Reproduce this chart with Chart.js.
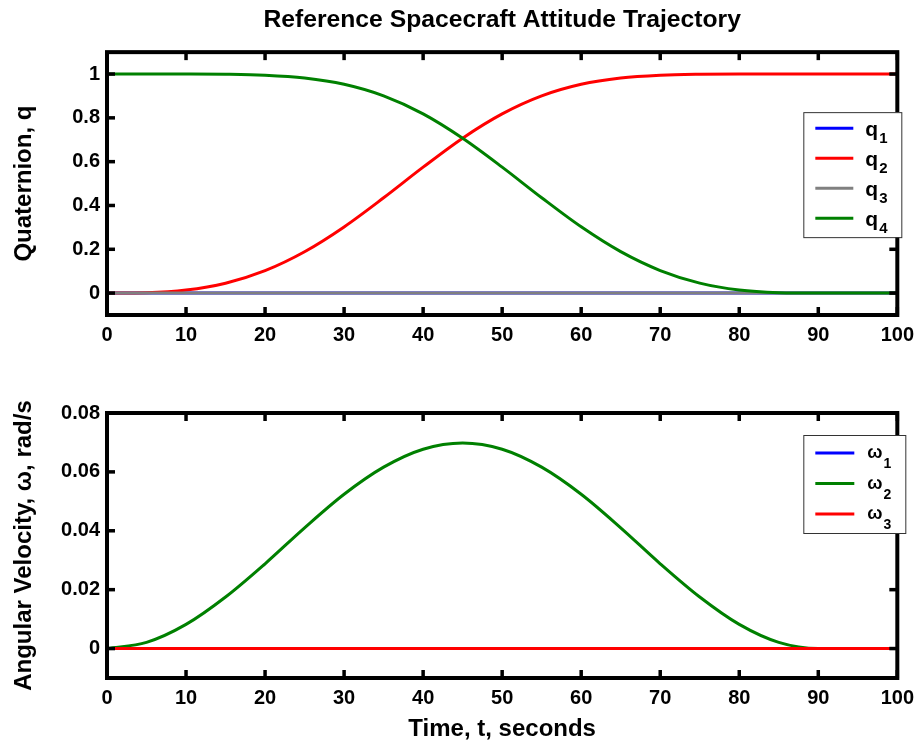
<!DOCTYPE html>
<html>
<head>
<meta charset="utf-8">
<title>Reference Spacecraft Attitude Trajectory</title>
<script src="https://cdn.jsdelivr.net/npm/chart.js@4.4.1/dist/chart.umd.min.js"></script>
<style>
  body { margin: 0; background: #fff; }
  #wrap { position: relative; width: 922px; height: 744px; }
  #wrap canvas { position: absolute; left: 0; }
</style>
</head>
<body>
<div id="wrap">
  <canvas id="quatChart" width="922" height="372" style="top:0"></canvas>
  <canvas id="rateChart" width="922" height="372" style="top:372px"></canvas>
</div>
<script>
// time samples, seconds
let time = [0, 5, 10, 15, 20, 25, 30, 35, 40, 45, 50, 55, 60, 65, 70, 75, 80, 85, 90, 95, 100];

// quaternion components
let q1 = [0, 0, 0, 0, 0, 0, 0, 0, 0, 0, 0, 0, 0, 0, 0, 0, 0, 0, 0, 0, 0];
let q2 = [0, 0.0018, 0.0138, 0.0453, 0.1027, 0.1890, 0.3022, 0.4350, 0.5749, 0.7073, 0.8180, 0.9003, 0.9532, 0.9820, 0.9947, 0.9990, 0.9999, 1.0, 1.0, 1.0, 1.0];
let q3 = [0, 0, 0, 0, 0, 0, 0, 0, 0, 0, 0, 0, 0, 0, 0, 0, 0, 0, 0, 0, 0];
let q4 = [1.0, 1.0, 0.9999, 0.9990, 0.9947, 0.9820, 0.9532, 0.9004, 0.8182, 0.7069, 0.5752, 0.4353, 0.3024, 0.1891, 0.1030, 0.0456, 0.0141, 0.0021, 0, 0, 0];

// body rates, rad/s
let w1 = [0, 0, 0, 0, 0, 0, 0, 0, 0, 0, 0, 0, 0, 0, 0, 0, 0, 0, 0, 0, 0];
let w2 = [0, 0.0021, 0.0082, 0.0175, 0.0288, 0.0410, 0.0524, 0.0616, 0.0677, 0.0698, 0.0677, 0.0616, 0.0524, 0.0410, 0.0288, 0.0175, 0.0082, 0.0021, 0, 0, 0];
let w3 = [0, 0, 0, 0, 0, 0, 0, 0, 0, 0, 0, 0, 0, 0, 0, 0, 0, 0, 0, 0, 0];

// tick labels
let timeTicks = [0, 10, 20, 30, 40, 50, 60, 70, 80, 90, 100];
let quatTicks = [0, 0.2, 0.4, 0.6, 0.8, 1];
let rateTicks = [0, 0.02, 0.04, 0.06, 0.08];

let quatNames = ['q1', 'q2', 'q3', 'q4'];
let rateNames = ['ω1', 'ω2', 'ω3'];
let quatColors = ['#0000ff', '#ff0000', '#808080', '#008000'];
let rateColors = ['#0000ff', '#008000', '#ff0000'];

Chart.defaults.font.family = "'Liberation Sans', Arial, sans-serif";
Chart.defaults.font.weight = 'bold';
Chart.defaults.color = '#000';

function toPoints(values) {
    return values.map((v, i) => ({x: time[i], y: v}));
}

function makeSets(series, names, colors) {
    // last series sits on top, like the original plot order
    return series.map((s, i) => ({
        label: names[i],
        data: toPoints(s),
        borderColor: colors[i],
        backgroundColor: colors[i],
        borderWidth: 3,
        pointRadius: 0,
        cubicInterpolationMode: 'monotone',
        order: series.length - i
    }));
}

// black box round the plot with inward ticks on all four sides
const frame = {
    id: 'frame',
    afterDatasetsDraw(chart) {
        const {ctx, chartArea: a, scales: {x, y}} = chart;
        const len = 8, w = 3.5;
        ctx.save();
        ctx.fillStyle = '#000';
        x.ticks.forEach(t => {
            const px = x.getPixelForValue(t.value);
            ctx.fillRect(px - w / 2, a.bottom - len, w, len);
            ctx.fillRect(px - w / 2, a.top, w, len);
        });
        y.ticks.forEach(t => {
            const py = y.getPixelForValue(t.value);
            ctx.fillRect(a.left, py - w / 2, len, w);
            ctx.fillRect(a.right - len, py - w / 2, len, w);
        });
        ctx.strokeStyle = '#000';
        ctx.lineWidth = 4;
        ctx.strokeRect(a.left, a.top, a.right - a.left, a.bottom - a.top);
        ctx.restore();
    }
};

// legend box inside the plot, labels drawn with subscript index
const boxLegend = {
    id: 'boxLegend',
    afterDraw(chart, args, o) {
        const {ctx, chartArea: a} = chart;
        const left = a.right + o.right - o.w;
        const top = a.top + o.top;
        ctx.save();
        ctx.fillStyle = '#fff';
        ctx.fillRect(left, top, o.w, o.h);
        ctx.strokeStyle = '#333';
        ctx.lineWidth = 1;
        ctx.strokeRect(left + 0.5, top + 0.5, o.w, o.h);
        chart.data.datasets.forEach((ds, i) => {
            const ly = top + o.first + i * o.gap;
            ctx.strokeStyle = ds.borderColor;
            ctx.lineWidth = 3;
            ctx.beginPath();
            ctx.moveTo(left + 12, ly);
            ctx.lineTo(left + o.lineEnd, ly);
            ctx.stroke();
            const base = ds.label.slice(0, -1);
            const sub = ds.label.slice(-1);
            ctx.fillStyle = '#000';
            ctx.textBaseline = 'alphabetic';
            ctx.font = 'bold ' + o.baseSize + "px 'Liberation Sans', Arial, sans-serif";
            ctx.fillText(base, left + o.textX, ly + o.baseDy);
            const bw = ctx.measureText(base).width;
            ctx.font = 'bold ' + o.subSize + "px 'Liberation Sans', Arial, sans-serif";
            ctx.fillText(sub, left + o.textX + bw + 1, ly + o.subDy);
        });
        ctx.restore();
    }
};

function axes(yTicks, yMin, yMax, yTitle, xTitle, xHeight) {
    return {
        x: {
            type: 'linear',
            min: 0,
            max: 100,
            afterBuildTicks: s => { s.ticks = timeTicks.map(v => ({value: v})); },
            afterFit: s => { s.height = xHeight; },
            grid: {display: false, drawTicks: false},
            border: {display: false},
            ticks: {autoSkip: false, maxRotation: 0, padding: 8, font: {size: 20}, callback: v => String(v)},
            title: {display: !!xTitle, text: xTitle, font: {size: 24}, padding: {top: 0, bottom: 0}}
        },
        y: {
            type: 'linear',
            min: yMin,
            max: yMax,
            afterBuildTicks: s => { s.ticks = yTicks.map(v => ({value: v})); },
            afterFit: s => { s.width = 107; },
            grid: {display: false, drawTicks: false},
            border: {display: false},
            ticks: {padding: 7, font: {size: 20}, callback: v => String(v)},
            title: {display: true, text: yTitle, font: {size: 24}, padding: {top: 10, bottom: 0}}
        }
    };
}

new Chart(document.getElementById('quatChart'), {
    type: 'line',
    data: {datasets: makeSets([q1, q2, q3, q4], quatNames, quatColors)},
    options: {
        responsive: false,
        animation: false,
        devicePixelRatio: 1,
        layout: {padding: {left: 0, right: 22, top: 0, bottom: 0}},
        scales: axes(quatTicks, -0.1, 1.1, 'Quaternion, q', '', 57),
        plugins: {
            legend: {display: false},
            tooltip: {enabled: false},
            title: {
                display: true,
                fullSize: false,
                text: 'Reference Spacecraft Attitude Trajectory',
                font: {size: 24.7},
                padding: {top: 5, bottom: 17.5}
            },
            boxLegend: {right: 4, top: 60, w: 98, h: 125, first: 16, gap: 30, lineEnd: 50, textX: 62,
                        baseSize: 21, baseDy: 8, subSize: 15, subDy: 14.5}
        }
    },
    plugins: [frame, boxLegend]
});

new Chart(document.getElementById('rateChart'), {
    type: 'line',
    data: {datasets: makeSets([w1, w2, w3], rateNames, rateColors)},
    options: {
        responsive: false,
        animation: false,
        devicePixelRatio: 1,
        layout: {padding: {left: 0, right: 22, top: 41, bottom: 0}},
        scales: axes(rateTicks, -0.01, 0.08, 'Angular Velocity, ω, rad/s', 'Time, t, seconds', 66),
        plugins: {
            legend: {display: false},
            tooltip: {enabled: false},
            title: {display: false},
            boxLegend: {right: 8, top: 22, w: 102, h: 98, first: 18, gap: 30.5, lineEnd: 51, textX: 64,
                        baseSize: 18, baseDy: 5, subSize: 14, subDy: 15}
        }
    },
    plugins: [frame, boxLegend]
});
</script>
</body>
</html>
